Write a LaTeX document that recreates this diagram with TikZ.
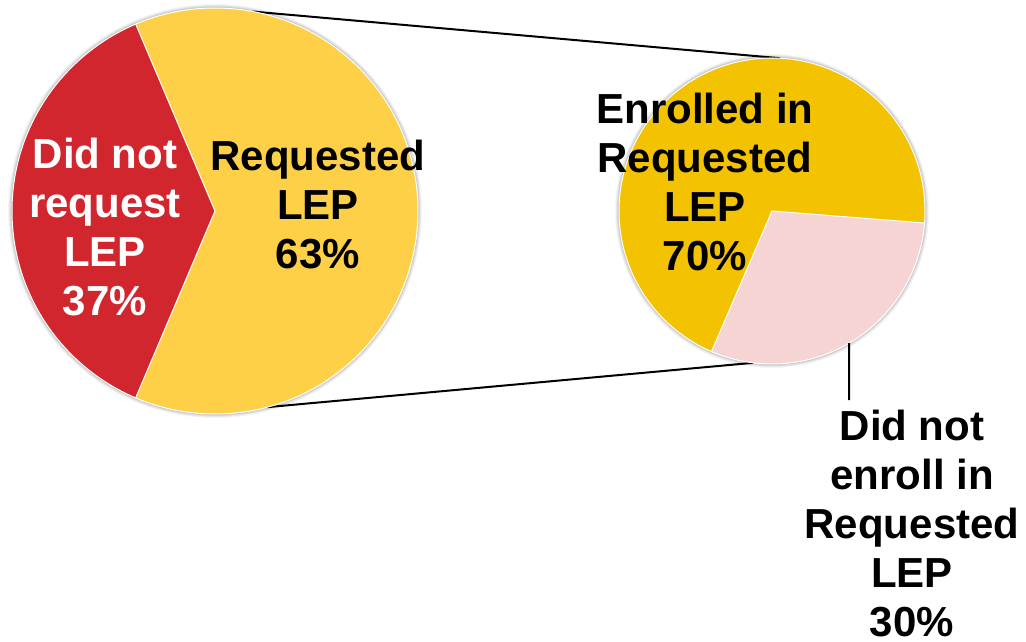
\documentclass[tikz,border=0pt]{standalone}
\usepackage{fontspec}
\setmainfont{Liberation Sans}
\usetikzlibrary{calc}
\definecolor{redslice}{HTML}{D1262E}
\definecolor{ltgold}{HTML}{FDD048}
\definecolor{dkgold}{HTML}{F3C200}
\definecolor{pinkslice}{HTML}{F6D4D4}
\begin{document}
\begin{tikzpicture}[x=1pt,y=-1pt,
  lbl/.style={font=\fontsize{42}{49}\selectfont\bfseries, align=center, anchor=base, inner sep=0pt},
  sep/.style={draw=white, line width=1pt},
  conn/.style={draw=black, line width=2pt}]
\useasboundingbox (0,0) rectangle (1026,642);
\fill[white] (0,0) rectangle (1026,642);
% centres
\coordinate (L) at (215,211);
\coordinate (R) at (772,211);
% connector end points on the circles
\coordinate (LT) at ($(L)+(-79.3:203)$);
\coordinate (LB) at ($(L)+(75.1:203)$);
\coordinate (RT) at ($(R)+(-87:153)$);
\coordinate (RB) at ($(R)+(97.1:153)$);
\coordinate (RP) at ($(R)+(59.7:153)$);
\coordinate (RPend) at (849,400);
% connector lines
\draw[conn] (LT) -- (RT);
\draw[conn] (LB) -- (RB);
% soft shadows
\foreach \k/\o in {4/0.04,3/0.05,2/0.07,1/0.09}{
  \fill[black,opacity=\o] (L) circle[radius=203+\k];
  \fill[black,opacity=\o] (R) circle[radius=153+\k];
}
% left pie
\fill[redslice] (L) -- ++(113:203) arc[start angle=113, end angle=247, radius=203] -- cycle;
\fill[ltgold] (L) -- ++(247:203) arc[start angle=247, end angle=473, radius=203] -- cycle;
\draw[sep] ($(L)+(113:203)$) -- (L) -- ($(L)+(247:203)$);
\draw[sep] (L) circle[radius=203];
% right pie
\fill[pinkslice] (R) -- ++(4.5:153) arc[start angle=4.5, end angle=113.3, radius=153] -- cycle;
\fill[dkgold] (R) -- ++(113.3:153) arc[start angle=113.3, end angle=364.5, radius=153] -- cycle;
\draw[sep] ($(R)+(4.5:153)$) -- (R) -- ($(R)+(113.3:153)$);
\draw[sep] (R) circle[radius=153];
% leader
\draw[conn] (RP) -- (RPend);
% labels
\node[lbl, text=white] (t1) at (105,315) {Did not\\request\\LEP\\37\%};
\node[lbl] (t2) at (318,268) {Requested\\LEP\\63\%};
\node[lbl] (t3) at (705,270) {Enrolled in\\Requested\\LEP\\70\%};
\node[lbl] (t4) at (912,636) {Did not\\enroll in\\Requested\\LEP\\30\%};
\end{tikzpicture}
\end{document}
